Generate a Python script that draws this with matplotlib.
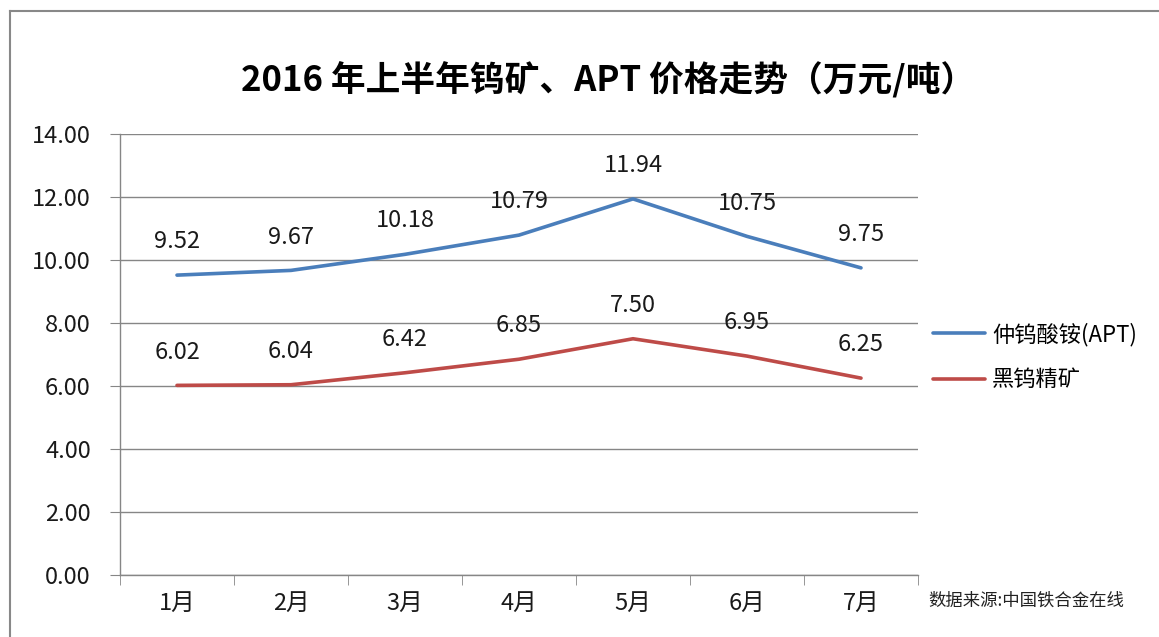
import matplotlib
matplotlib.use("Agg")
import matplotlib.pyplot as plt
from matplotlib.lines import Line2D

plt.rcParams['font.family'] = ['Noto Sans CJK SC', 'DejaVu Sans']

months = ["1月", "2月", "3月", "4月", "5月", "6月", "7月"]
apt = [9.52, 9.67, 10.18, 10.79, 11.94, 10.75, 9.75]
wolframite = [6.02, 6.04, 6.42, 6.85, 7.50, 6.95, 6.25]
series_names = ["仲钨酸铵(APT)", "黑钨精矿"]
yticks = [0, 2, 4, 6, 8, 10, 12, 14]
title = "2016 年上半年钨矿、APT 价格走势（万元/吨）"
source = "数据来源:中国铁合金在线"

W, H = 1159, 637
fig = plt.figure(figsize=(W / 100, H / 100), dpi=100)
ax = fig.add_axes([120 / W, 1 - 575 / H, (918 - 120) / W, (575 - 134) / H])

grid_c = "#868686"
blue = "#4A7EBB"
red = "#BE4B48"
fs = 17

x = list(range(len(months)))
ax.plot(x, apt, color=blue, lw=2.6, solid_capstyle='round', label=series_names[0])
ax.plot(x, wolframite, color=red, lw=2.6, solid_capstyle='round', label=series_names[1])

for xi, v in zip(x, apt):
    ax.annotate(f"{v:.2f}", (xi, v), xytext=(0, 24), textcoords='offset points',
                ha='center', va='center', fontsize=fs, color='#1a1a1a')
for xi, v in zip(x, wolframite):
    ax.annotate(f"{v:.2f}", (xi, v), xytext=(0, 24), textcoords='offset points',
                ha='center', va='center', fontsize=fs, color='#1a1a1a')

ax.set_xlim(-0.5, len(months) - 0.5)
ax.set_ylim(0, 14)
ax.set_yticks(yticks)
ax.set_yticklabels([f"{t:.2f}" for t in yticks], fontsize=fs, color='#1a1a1a')
ax.yaxis.grid(True, color=grid_c, lw=1)
ax.set_axisbelow(True)
ax.set_xticks(x)
ax.set_xticklabels(months, fontsize=fs, color='#1a1a1a')
ax.set_xticks([i - 0.5 for i in range(len(months) + 1)], minor=True)
ax.tick_params(axis='x', which='major', length=0, pad=12)
ax.tick_params(axis='x', which='minor', length=7, color=grid_c, direction='out')
ax.tick_params(axis='y', length=7, color=grid_c, direction='out', pad=14)
for s in ['top', 'right']:
    ax.spines[s].set_visible(False)
for s in ['left', 'bottom']:
    ax.spines[s].set_color(grid_c)
    ax.spines[s].set_linewidth(1)

fig.text(608 / W, 1 - 80 / H, title, ha='center', va='center', fontsize=25,
         fontweight='bold', color='black')

leg = fig.legend(loc='center left', bbox_to_anchor=(933 / W, 1 - 357 / H),
                 frameon=False, fontsize=16, handlelength=2.35, handletextpad=0.3,
                 labelspacing=1.0, borderaxespad=0, borderpad=0)

fig.text(928 / W, 1 - 601 / H, source, ha='left', va='center', fontsize=12.5, color='#222222')

# outer border (partially cropped in the reference)
fig.add_artist(Line2D([10 / W, 1.0], [1 - 11 / H, 1 - 11 / H], transform=fig.transFigure,
                      color='#888888', lw=1.5))
fig.add_artist(Line2D([10 / W, 10 / W], [1 - 11 / H, 0], transform=fig.transFigure,
                      color='#888888', lw=1.5))

fig.savefig("out.png", dpi=100)
